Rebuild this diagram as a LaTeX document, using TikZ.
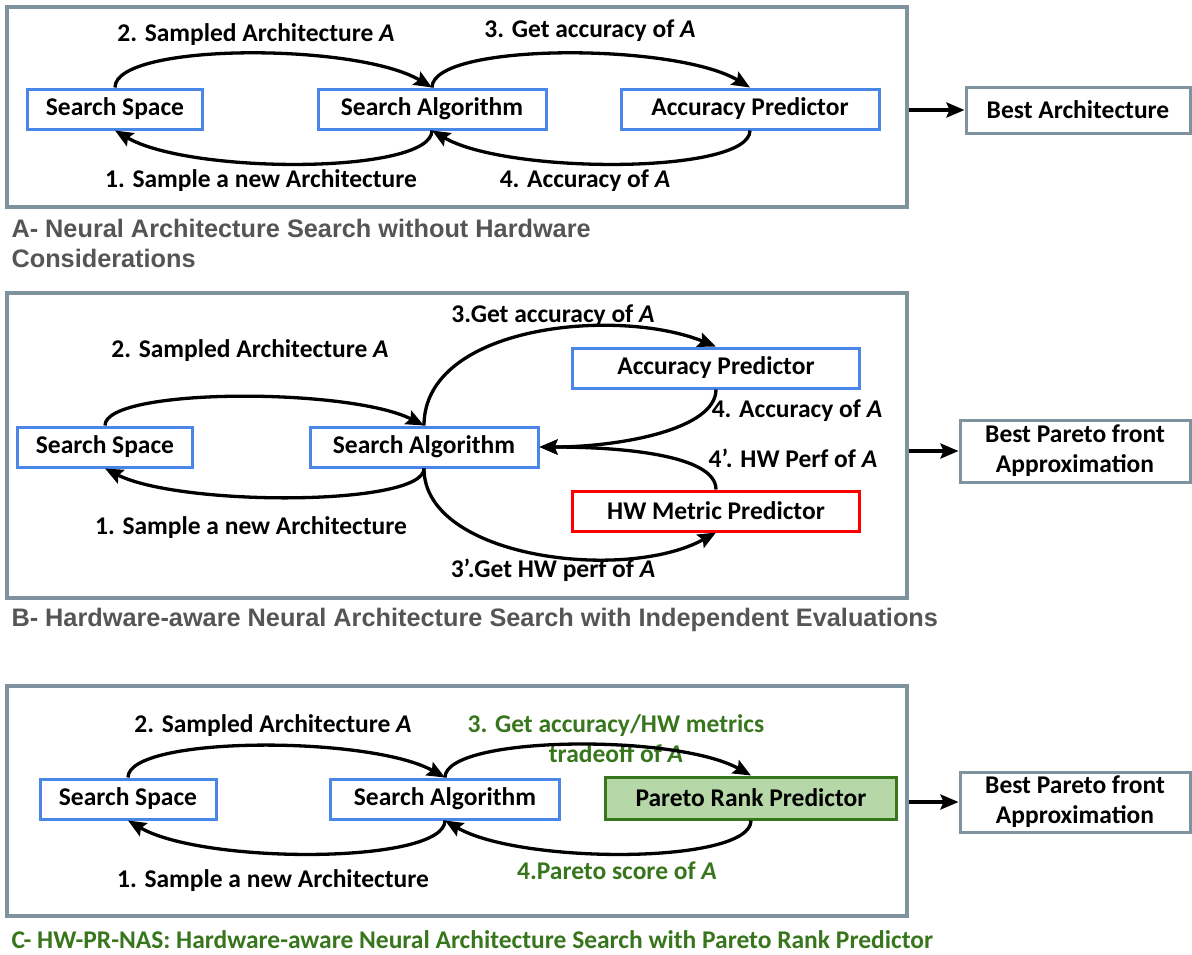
\documentclass[tikz,border=0pt]{standalone}
\usepackage{fontspec}
\setmainfont{Carlito}
\newfontfamily\arialfont{Liberation Sans}
\usetikzlibrary{
  positioning,
  arrows.meta
}
\definecolor{boxblue}{HTML}{4A86E8}
\definecolor{framegray}{HTML}{7F939F}
\definecolor{capgray}{HTML}{555555}
\definecolor{nasgreen}{HTML}{38761D}
\definecolor{rankfill}{HTML}{B6D7A8}

\begin{document}
\begin{tikzpicture}[
  x=1pt, y=-1pt,
  every node/.style={font=\fontsize{25.5}{30}\selectfont\bfseries},
  panel/.style={draw=framegray, line width=3.2pt, rectangle, minimum width=900pt, inner sep=0pt},
  algo/.style={draw=boxblue, line width=3pt, fill=white, rectangle, minimum height=40pt, inner sep=0pt},
  hwbox/.style={algo, draw=red},
  rankbox/.style={algo, draw=nasgreen, fill=rankfill, minimum height=42pt},
  best/.style={draw=framegray, line width=3pt, fill=white, rectangle, inner sep=0pt, align=center},
  caption/.style={anchor=west, align=left, font=\fontsize{25.3}{30}\selectfont\arialfont\bfseries, text=capgray},
  greencap/.style={anchor=west, text=nasgreen},
  green/.style={text=nasgreen, align=center},
  arrow/.style={line width=3.3pt, -{Stealth[length=18pt, width=15pt, inset=3pt]}}
]
\useasboundingbox (0,0) rectangle (1192,954);

% A - without hardware
\node[panel, minimum height=200pt] (panelA) at (457,107) {};
\node[algo, minimum width=175pt] (ssA) at (115,109) {Search Space};
\node[algo, minimum width=228pt] (saA) at (432,109) {Search Algorithm};
\node[algo, minimum width=258pt] (apA) at (750,109) {Accuracy Predictor};
\node[best, minimum width=224pt, minimum height=46pt] (bestA) at (1078,110) {Best Architecture};

\node at (256,35) {2. Sampled Architecture \textit{A}};
\node at (590,31) {3. Get accuracy of \textit{A}};
\node at (261,181) {1. Sample a new Architecture};
\node at (585,181) {4. Accuracy of \textit{A}};

\draw[arrow] (ssA.north) .. controls +(0,-45) and +(-75,-45) .. (saA.north);
\draw[arrow] (saA.north) .. controls +(0,-45) and +(-75,-45) .. (apA.north);
\draw[arrow] (saA.south) .. controls +(0,44) and +(75,44) .. (ssA.south);
\draw[arrow] (apA.south) .. controls +(0,44) and +(75,44) .. (saA.south);
\draw[arrow] (panelA.east |- bestA) -- (bestA);

\node[caption] at (8,243) {A- Neural Architecture Search without Hardware\\Considerations};

% B - independent evaluations
\node[panel, minimum height=305pt] (panelB) at (457,445.5) {};
\node[algo, minimum width=175pt] (ssB) at (105,447) {Search Space};
\node[algo, minimum width=228pt] (saB) at (424,447) {Search Algorithm};
\node[algo, minimum width=287pt] (apB) at (716,368) {Accuracy Predictor};
\node[hwbox, minimum width=287pt] (hwB) at (716,511) {HW Metric Predictor};
\node[best, minimum width=230pt, minimum height=62pt] (bestB) at (1075,451) {Best Pareto front\\Approximation};

\node at (553,316) {3.Get accuracy of \textit{A}};
\node at (250,351) {2. Sampled Architecture \textit{A}};
\node at (797,411) {4. Accuracy of \textit{A}};
\node at (793,458) {4’. HW Perf of \textit{A}};
\node at (251,528) {1. Sample a new Architecture};
\node at (553,570) {3’.Get HW perf of \textit{A}};

\draw[arrow] (ssB.north) .. controls +(0,-38) and +(-75,-38) .. (saB.north);
\draw[arrow] (saB.north) .. controls +(0,-100) and +(-100,-40) .. (apB.north);
\draw[arrow] (apB.south) .. controls +(0,40) and +(80,0) .. (saB.east);
\draw[arrow] (hwB.north) .. controls +(0,-35) and +(80,0) .. (saB.east);
\draw[arrow] (saB.south) .. controls +(0,38) and +(75,38) .. (ssB.south);
\draw[arrow] (saB.south) .. controls +(0,90) and +(-90,50) .. (hwB.south);
\draw[arrow] (panelB.east |- bestB) -- (bestB);

\node[caption] at (8,620) {B- Hardware-aware Neural Architecture Search with Independent Evaluations};

% C - HW-PR-NAS
\node[panel, minimum height=230pt] (panelC) at (457,801) {};
\node[algo, minimum width=176pt] (ssC) at (128,799) {Search Space};
\node[algo, minimum width=229pt] (saC) at (445,799) {Search Algorithm};
\node[rankbox, minimum width=291pt] (prC) at (751,798) {Pareto Rank Predictor};
\node[best, minimum width=230pt, minimum height=60pt] (bestC) at (1075,802) {Best Pareto front\\Approximation};

\node at (273,726) {2. Sampled Architecture \textit{A}};
\node[green] at (616,739) {3. Get accuracy/HW metrics\\tradeoff of \textit{A}};
\node at (273,881) {1. Sample a new Architecture};
\node[green] at (617,871) {4.Pareto score of \textit{A}};

\draw[arrow] (ssC.north) .. controls +(0,-42) and +(-75,-42) .. (saC.north);
\draw[arrow] (saC.north) .. controls +(0,-42) and +(-75,-42) .. (prC.north);
\draw[arrow] (saC.south) .. controls +(0,44) and +(75,44) .. (ssC.south);
\draw[arrow] (prC.south) .. controls +(0,44) and +(75,44) .. (saC.south);
\draw[arrow] (panelC.east |- bestC) -- (bestC);

\node[greencap, font=\fontsize{25.5}{30}\selectfont\bfseries] at (8,940) {C- HW-PR-NAS: Hardware-aware Neural Architecture Search with Pareto Rank Predictor};

\end{tikzpicture}
\end{document}
